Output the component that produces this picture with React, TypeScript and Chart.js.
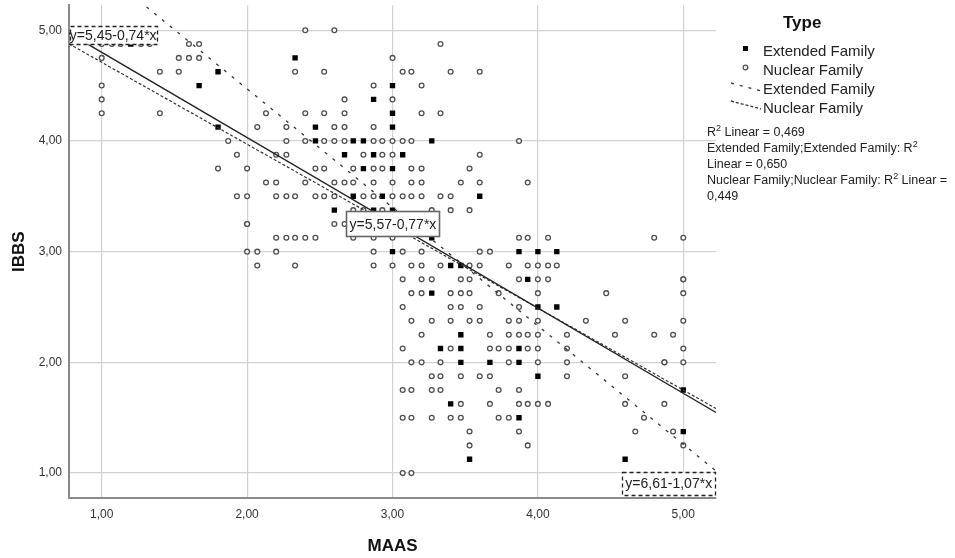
import React, { useEffect, useRef } from "react";
import { Chart, registerables } from "chart.js";
Chart.register(...registerables);

// ---------- data ----------
const xTickValues = [1, 2, 3, 4, 5];
const yTickValues = [1, 2, 3, 4, 5];
const xAxisTitle = "MAAS";
const yAxisTitle = "IBBS";
const legendTitle = "Type";
const groupNames = ["Extended Family", "Nuclear Family"];

// Extended family points: [IBBS, MAAS values at that IBBS]
const extendedRows: [number, number[]][] = [
  [4.875, [1.2]],
  [4.75, [2.33]],
  [4.625, [1.8]],
  [4.5, [1.67, 3]],
  [4.375, [2.87]],
  [4.25, [3]],
  [4.125, [1.8, 2.47, 3]],
  [4, [2.47, 2.73, 2.8, 3.27]],
  [3.875, [2.67, 2.87, 3.07]],
  [3.75, [2.8, 3]],
  [3.5, [2.73, 2.93, 3.6]],
  [3.375, [2.6, 2.87, 3]],
  [3.125, [3.27]],
  [3, [3, 3.87, 4, 4.13]],
  [2.875, [3.4, 3.47]],
  [2.75, [3.93]],
  [2.625, [3.27]],
  [2.5, [4, 4.13]],
  [2.25, [3.47]],
  [2.125, [3.33, 3.47, 3.87]],
  [2, [3.47, 3.67, 3.87]],
  [1.875, [4]],
  [1.75, [5]],
  [1.625, [3.4]],
  [1.5, [3.87]],
  [1.375, [5]],
  [1.125, [3.53, 4.6]],
];

// Nuclear family points: [IBBS, MAAS values at that IBBS]
const nuclearRows: [number, number[]][] = [
  [5, [2.4, 2.6]],
  [4.875, [1, 1.07, 1.13, 1.27, 1.33, 1.6, 1.67, 3.33]],
  [4.75, [1, 1.53, 1.6, 1.67, 3]],
  [4.625, [1.4, 1.53, 2.33, 2.53, 3.07, 3.13, 3.4, 3.6]],
  [4.5, [1, 2.87, 3.2]],
  [4.375, [1, 2.67, 3]],
  [4.25, [1, 1.4, 2.13, 2.4, 2.53, 2.67, 3.2, 3.33]],
  [4.125, [2.07, 2.27, 2.6, 2.67, 2.87]],
  [4, [1.87, 2.27, 2.4, 2.53, 2.6, 2.67, 2.87, 2.93, 3, 3.07, 3.13, 3.87]],
  [3.875, [1.93, 2.2, 2.27, 2.8, 2.93, 3, 3.6]],
  [3.75, [1.8, 2, 2.47, 2.53, 2.73, 2.87, 2.93, 3.13, 3.2, 3.53]],
  [3.625, [2.13, 2.2, 2.4, 2.6, 2.67, 2.73, 2.87, 3, 3.13, 3.2, 3.47, 3.6, 3.93]],
  [3.5, [1.93, 2, 2.2, 2.27, 2.33, 2.47, 2.53, 2.6, 2.8, 2.87, 3, 3.07, 3.13, 3.2, 3.33, 3.4]],
  [3.375, [2.73, 2.8, 2.93, 3.27, 3.4, 3.53]],
  [3.25, [2, 2, 2.6, 2.67]],
  [3.125, [2.2, 2.27, 2.33, 2.4, 2.47, 2.73, 2.87, 3, 3.87, 3.93, 4.07, 4.8, 5]],
  [3, [2, 2.07, 2.2, 2.87, 3.07, 3.2, 3.6, 3.67]],
  [2.875, [2.07, 2.33, 2.87, 3, 3.13, 3.2, 3.33, 3.53, 3.6, 3.8, 3.93, 4, 4.07, 4.13]],
  [2.75, [3.07, 3.2, 3.27, 3.47, 3.53, 3.87, 4, 4.07, 5, 5]],
  [2.625, [3.13, 3.2, 3.4, 3.47, 3.53, 3.73, 4, 4.47, 5]],
  [2.5, [3.07, 3.4, 3.47, 3.6, 3.87]],
  [2.375, [3.13, 3.27, 3.4, 3.53, 3.6, 3.8, 3.87, 4, 4.33, 4.6, 5]],
  [2.25, [3.2, 3.67, 3.8, 3.87, 3.93, 4, 4.2, 4.53, 4.8, 4.93]],
  [2.125, [3.07, 3.4, 3.67, 3.73, 3.8, 3.93, 4, 4.2, 5]],
  [2, [3.13, 3.2, 3.33, 3.8, 4, 4.2, 4.87, 4.87, 5]],
  [1.875, [3.27, 3.33, 3.47, 3.6, 3.67, 4.2, 4.6]],
  [1.75, [3.07, 3.13, 3.27, 3.33, 3.73, 3.87]],
  [1.625, [3.47, 3.67, 3.87, 3.93, 4, 4.07, 4.6, 4.87]],
  [1.5, [3.07, 3.13, 3.27, 3.4, 3.47, 3.73, 3.8, 4.73]],
  [1.375, [3.53, 3.87, 4.67, 4.93]],
  [1.25, [3.53, 3.93, 5]],
  [1, [3.07, 3.13]],
];

// regression fits: total, extended, nuclear
const fitIntercepts = [5.57, 6.61, 5.45];
const fitSlopes = [-0.77, -1.07, -0.74];
const fitEquations = ["y=5,57-0,77*x", "y=6,61-1,07*x", "y=5,45-0,74*x"];
const r2Lines = [
  "R² Linear = 0,469",
  "Extended Family;Extended Family: R²",
  "Linear = 0,650",
  "Nuclear Family;Nuclear Family: R² Linear =",
  "0,449",
];

// ---------- layout / style ----------
const AXIS_MIN = 0.775;
const AXIS_MAX = 5.225;
const FONT = '"Liberation Sans", Arial, sans-serif';
// label anchor centers in data coords + box sizes (total, extended, nuclear)
const eqAnchors = [
  { x: 3.003, y: 3.252, w: 93, h: 25, dashed: false },
  { x: 4.9, y: 0.906, w: 93, h: 23, dashed: true },
  { x: 1.079, y: 4.955, w: 87, h: 18, dashed: true },
];

const fmt = (v: number) => v.toFixed(2).replace(".", ",");

function drawSupText(ctx: CanvasRenderingContext2D, text: string, x: number, y: number, size: number) {
  const parts = text.split("²");
  let cx = x;
  parts.forEach((p, i) => {
    ctx.font = `${size}px ${FONT}`;
    ctx.fillText(p, cx, y);
    cx += ctx.measureText(p).width;
    if (i < parts.length - 1) {
      ctx.font = `${size * 0.72}px ${FONT}`;
      ctx.fillText("2", cx, y - size * 0.38);
      cx += ctx.measureText("2").width;
    }
  });
}

const overlayPlugin = {
  id: "overlay",
  afterDatasetsDraw(chart: any) {
    const { ctx, scales } = chart;
    const xs = scales.x;
    const ys = scales.y;
    ctx.save();
    eqAnchors.forEach((a, i) => {
      const cx = xs.getPixelForValue(a.x);
      const cy = ys.getPixelForValue(a.y);
      const l = Math.round(cx - a.w / 2) + 0.5;
      const t = Math.round(cy - a.h / 2) + 0.5;
      ctx.fillStyle = "#ffffff";
      ctx.fillRect(l, t, a.w, a.h);
      ctx.strokeStyle = a.dashed ? "#222" : "#666";
      ctx.lineWidth = a.dashed ? 1.3 : 1.6;
      ctx.setLineDash(a.dashed ? [4, 3] : []);
      ctx.strokeRect(l, t, a.w, a.h);
      ctx.setLineDash([]);
      ctx.fillStyle = "#222";
      ctx.font = `14px ${FONT}`;
      ctx.textAlign = "center";
      ctx.textBaseline = "middle";
      ctx.fillText(fitEquations[i], cx, cy + 1);
    });
    ctx.restore();
  },
  afterDraw(chart: any) {
    const { ctx } = chart;
    ctx.save();
    ctx.fillStyle = "#111";
    ctx.textAlign = "left";
    ctx.textBaseline = "alphabetic";
    ctx.font = `bold 17px ${FONT}`;
    ctx.fillText(legendTitle, 783, 28);

    ctx.font = `15px ${FONT}`;
    // square marker
    ctx.fillStyle = "#000";
    ctx.fillRect(743, 46, 5, 5);
    ctx.fillStyle = "#222";
    ctx.fillText(groupNames[0], 763, 56);
    // circle marker
    ctx.beginPath();
    ctx.arc(745.5, 67.5, 2.3, 0, Math.PI * 2);
    ctx.strokeStyle = "#555";
    ctx.lineWidth = 1.3;
    ctx.stroke();
    ctx.fillText(groupNames[1], 763, 75);
    // extended line sample
    ctx.strokeStyle = "#333";
    ctx.lineWidth = 1.3;
    ctx.setLineDash([3, 6]);
    ctx.beginPath();
    ctx.moveTo(731, 83);
    ctx.lineTo(761, 91);
    ctx.stroke();
    ctx.fillText(groupNames[0], 763, 94);
    // nuclear line sample
    ctx.setLineDash([3, 2]);
    ctx.beginPath();
    ctx.moveTo(731, 101);
    ctx.lineTo(761, 109);
    ctx.stroke();
    ctx.setLineDash([]);
    ctx.fillText(groupNames[1], 763, 113);

    // R2 text
    ctx.fillStyle = "#222";
    const baselines = [136, 152, 168, 184, 200];
    r2Lines.forEach((line, i) => drawSupText(ctx, line, 707, baselines[i], 12.5));
    ctx.restore();
  },
};

export default function App() {
  const ref = useRef<HTMLCanvasElement>(null);
  useEffect(() => {
    const canvas = ref.current;
    if (!canvas) return;
    const extPts = extendedRows.flatMap(([y, xs]) => xs.map((x) => ({ x, y })));
    const nucPts = nuclearRows.flatMap(([y, xs]) => xs.map((x) => ({ x, y })));
    const fitLine = (i: number) => [
      { x: AXIS_MIN, y: fitIntercepts[i] + fitSlopes[i] * AXIS_MIN },
      { x: AXIS_MAX, y: fitIntercepts[i] + fitSlopes[i] * AXIS_MAX },
    ];
    const chart = new Chart(canvas, {
      type: "scatter",
      data: {
        datasets: [
          {
            label: "Total fit",
            data: fitLine(0),
            showLine: true,
            pointRadius: 0,
            borderColor: "#222",
            borderWidth: 1.3,
            clip: 0,
          } as any,
          {
            label: "Extended fit",
            data: fitLine(1),
            showLine: true,
            pointRadius: 0,
            borderColor: "#333",
            borderWidth: 1.3,
            borderDash: [3, 7],
            clip: 0,
          } as any,
          {
            label: "Nuclear fit",
            data: fitLine(2),
            showLine: true,
            pointRadius: 0,
            borderColor: "#333",
            borderWidth: 1.2,
            borderDash: [3, 2],
            clip: 0,
          } as any,
          {
            label: groupNames[1],
            data: nucPts,
            pointStyle: "circle",
            pointRadius: 2.4,
            borderWidth: 1.3,
            borderColor: "#505050",
            backgroundColor: "#ffffff",
          },
          {
            label: groupNames[0],
            data: extPts,
            pointStyle: "rect",
            pointRadius: 3.8,
            borderWidth: 0,
            borderColor: "#000",
            backgroundColor: "#000",
          },
        ],
      },
      options: {
        responsive: false,
        animation: false,
        devicePixelRatio: 1,
        layout: { padding: { top: 4, right: 239, left: 0, bottom: 0 } },
        plugins: { legend: { display: false }, tooltip: { enabled: false } },
        scales: {
          x: {
            type: "linear",
            min: AXIS_MIN,
            max: AXIS_MAX,
            afterBuildTicks: (s: any) => {
              s.ticks = xTickValues.map((v) => ({ value: v }));
            },
            afterFit: (s: any) => {
              s.height = 60;
              s.paddingLeft = 0;
              s.paddingRight = 0;
            },
            ticks: {
              callback: (v: any) => fmt(Number(v)),
              font: { family: FONT, size: 12 },
              color: "#333",
              padding: 9,
              maxRotation: 0,
            },
            grid: { color: "#d2d2d2", lineWidth: 1.2, drawTicks: false },
            border: { color: "#8a8a8a", width: 2 },
            title: {
              display: true,
              text: xAxisTitle,
              font: { family: FONT, size: 17, weight: "bold" },
              color: "#111",
              padding: { top: 0, bottom: 1 },
            },
          },
          y: {
            type: "linear",
            min: AXIS_MIN,
            max: AXIS_MAX,
            afterBuildTicks: (s: any) => {
              s.ticks = yTickValues.map((v) => ({ value: v }));
            },
            afterFit: (s: any) => {
              s.width = 69;
              s.paddingTop = 0;
              s.paddingBottom = 0;
            },
            ticks: {
              callback: (v: any) => fmt(Number(v)),
              font: { family: FONT, size: 12 },
              color: "#333",
              padding: 7,
            },
            grid: { color: "#d2d2d2", lineWidth: 1.2, drawTicks: false },
            border: { color: "#8a8a8a", width: 2 },
            title: {
              display: true,
              text: yAxisTitle,
              font: { family: FONT, size: 17, weight: "bold" },
              color: "#111",
              padding: { top: 9, bottom: 0 },
            },
          },
        },
      },
      plugins: [overlayPlugin],
    } as any);
    return () => chart.destroy();
  }, []);
  return (
    <div style={{ position: "fixed", left: 0, top: 0, width: 955, height: 558, background: "#fff" }}>
      <canvas ref={ref} width={955} height={558} style={{ display: "block" }} />
    </div>
  );
}
